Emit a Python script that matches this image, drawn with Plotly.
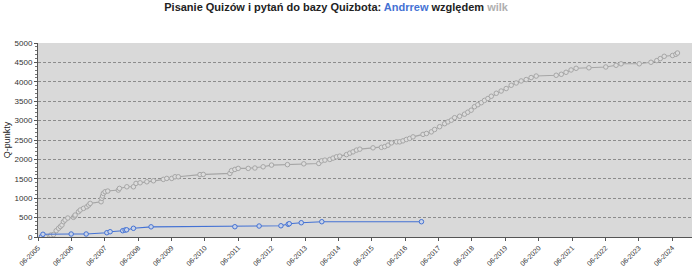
import plotly.graph_objects as go

# ---- data ----
wilk_dates = [
    "2005-08-19", "2005-10-20", "2005-11-18", "2005-12-17", "2006-01-12", "2006-02-01",
    "2006-02-18", "2006-03-06", "2006-03-24", "2006-04-23", "2006-06-24", "2006-07-07",
    "2006-07-12", "2006-08-18", "2006-09-06", "2006-10-12", "2006-11-18", "2006-12-08",
    "2006-12-24", "2007-04-22", "2007-04-30", "2007-05-08", "2007-05-17", "2007-06-05",
    "2007-07-04", "2007-10-28", "2007-11-09", "2008-01-29", "2008-04-10", "2008-05-08",
    "2008-06-22", "2008-09-04", "2008-11-15", "2009-03-03", "2009-04-10", "2009-06-03",
    "2009-07-09", "2009-08-14", "2010-04-08", "2010-05-14", "2011-03-01", "2011-03-19",
    "2011-04-25", "2011-05-31", "2011-09-18", "2011-11-30", "2012-02-28", "2012-05-30",
    "2012-11-20", "2013-05-18", "2013-10-29", "2013-11-28", "2014-01-04", "2014-02-27",
    "2014-04-03", "2014-05-10", "2014-06-15", "2014-08-28", "2014-10-03", "2014-11-08",
    "2014-12-15", "2015-01-21", "2015-06-14", "2015-09-14", "2015-10-20", "2015-11-25",
    "2016-01-02", "2016-02-26", "2016-04-01", "2016-05-07", "2016-06-13", "2016-07-19",
    "2016-08-25", "2016-12-12", "2017-01-19", "2017-03-13", "2017-04-18", "2017-06-12",
    "2017-08-06", "2017-09-11", "2017-10-18", "2017-11-23", "2018-01-17", "2018-03-11",
    "2018-04-16", "2018-05-23", "2018-06-28", "2018-08-04", "2018-09-11", "2018-10-16",
    "2018-11-22", "2018-12-29", "2019-02-22", "2019-04-16", "2019-06-10", "2019-08-04",
    "2019-09-28", "2019-11-21", "2020-01-15", "2020-03-09", "2020-05-03", "2020-12-08",
    "2021-02-02", "2021-03-26", "2021-05-20", "2021-07-14", "2021-12-01", "2022-06-04",
    "2022-09-24", "2022-11-18", "2023-06-05", "2023-10-11", "2023-12-14", "2024-01-21",
    "2024-03-04", "2024-06-03", "2024-07-10", "2024-07-27",
]
wilk_points = [
    8, 51, 64, 162, 224, 270,
    309, 394, 437, 489, 507, 540,
    566, 651, 695, 738, 780, 823,
    867, 908, 996, 1055, 1124, 1166,
    1184, 1209, 1253, 1294, 1294, 1382,
    1397, 1423, 1449, 1485, 1510, 1510,
    1552, 1552, 1608, 1613, 1639, 1711,
    1742, 1768, 1768, 1778, 1809, 1853,
    1865, 1886, 1896, 1963, 1981, 1999,
    2033, 2066, 2084, 2123, 2161, 2195,
    2239, 2264, 2298, 2311, 2329, 2367,
    2426, 2452, 2452, 2478, 2514, 2540,
    2581, 2645, 2668, 2709, 2771, 2843,
    2920, 2967, 3010, 3075, 3113, 3165,
    3216, 3268, 3358, 3409, 3461, 3520,
    3569, 3628, 3705, 3762, 3826, 3911,
    3970, 4022, 4058, 4109, 4148, 4168,
    4194, 4245, 4305, 4348, 4361, 4382,
    4426, 4464, 4464, 4503, 4547, 4598,
    4657, 4678, 4709, 4742,
]

andrrew_dates = [
    "2005-07-10", "2005-07-25", "2006-05-30", "2006-11-10", "2007-06-24", "2007-07-30",
    "2007-12-15", "2008-01-10", "2008-01-27", "2008-04-10", "2008-10-20", "2011-04-25",
    "2012-01-15", "2012-09-10", "2012-11-28", "2012-12-10", "2013-04-20", "2013-12-01",
    "2016-11-25",
]
andrrew_points = [
    13, 70, 77, 77, 110, 136,
    162, 180, 185, 224, 262, 265,
    283, 290, 327, 342, 368, 394,
    394,
]

tick_dates = ["%d-06-01" % y for y in range(2005, 2025)]
tick_labels = ["06-%d" % y for y in range(2005, 2025)]
x_range = ["2005-06-01", "2025-01-02"]
y_range = [0, 5000]

GRAY = "#a6a6a6"
BLUE = "#4472d4"

fig = go.Figure()
fig.add_trace(go.Scatter(
    x=wilk_dates, y=wilk_points, mode="lines+markers", name="wilk",
    line=dict(color=GRAY, width=1.1),
    marker=dict(symbol="circle", size=4.5, color="#dcdcdc", line=dict(color=GRAY, width=1)),
))
fig.add_trace(go.Scatter(
    x=andrrew_dates, y=andrrew_points, mode="lines+markers", name="Andrrew",
    line=dict(color=BLUE, width=1.1),
    marker=dict(symbol="circle", size=4.5, color="#c9d3e8", line=dict(color=BLUE, width=1)),
))

fig.update_layout(
    width=693, height=267,
    margin=dict(l=38, r=1, t=43, b=30),
    paper_bgcolor="white",
    plot_bgcolor="#d9d9d9",
    showlegend=False,
    font=dict(family="Liberation Sans, Arial, sans-serif", size=8, color="#333333"),
    title=dict(
        text="<b>Pisanie Quizów i pytań do bazy Quizbota: <span style='color:#4472d4'>Andrrew</span>"
             " względem <span style='color:#b0b0b0'>wilk</span></b>",
        x=0.485, xref="container", xanchor="center",
        y=0.975, yref="container", yanchor="middle",
        font=dict(family="Liberation Sans, Arial, sans-serif", size=11, color="#222222"),
    ),
)
fig.update_xaxes(
    type="date", range=x_range, automargin=False,
    tickmode="array", tickvals=tick_dates, ticktext=tick_labels, tickangle=-45,
    ticks="outside", ticklen=3, tickcolor="#555555",
    showgrid=False, zeroline=False,
    showline=True, linecolor="#555555", linewidth=1,
    tickfont=dict(size=7, color="#333333"),
)
fig.update_yaxes(
    range=y_range, dtick=500, automargin=False,
    ticks="outside", ticklen=3, tickcolor="#555555",
    minor=dict(dtick=100, ticks="outside", ticklen=2, tickcolor="#777777", showgrid=False),
    showgrid=True, gridcolor="#8c8c8c", griddash="3px,2px", gridwidth=1,
    zeroline=False,
    showline=True, linecolor="#555555", linewidth=1,
    tickfont=dict(size=8, color="#333333"),
    title=dict(text="Q-punkty", font=dict(size=9, color="#222222"), standoff=2),
)

fig.write_html("out.html")
